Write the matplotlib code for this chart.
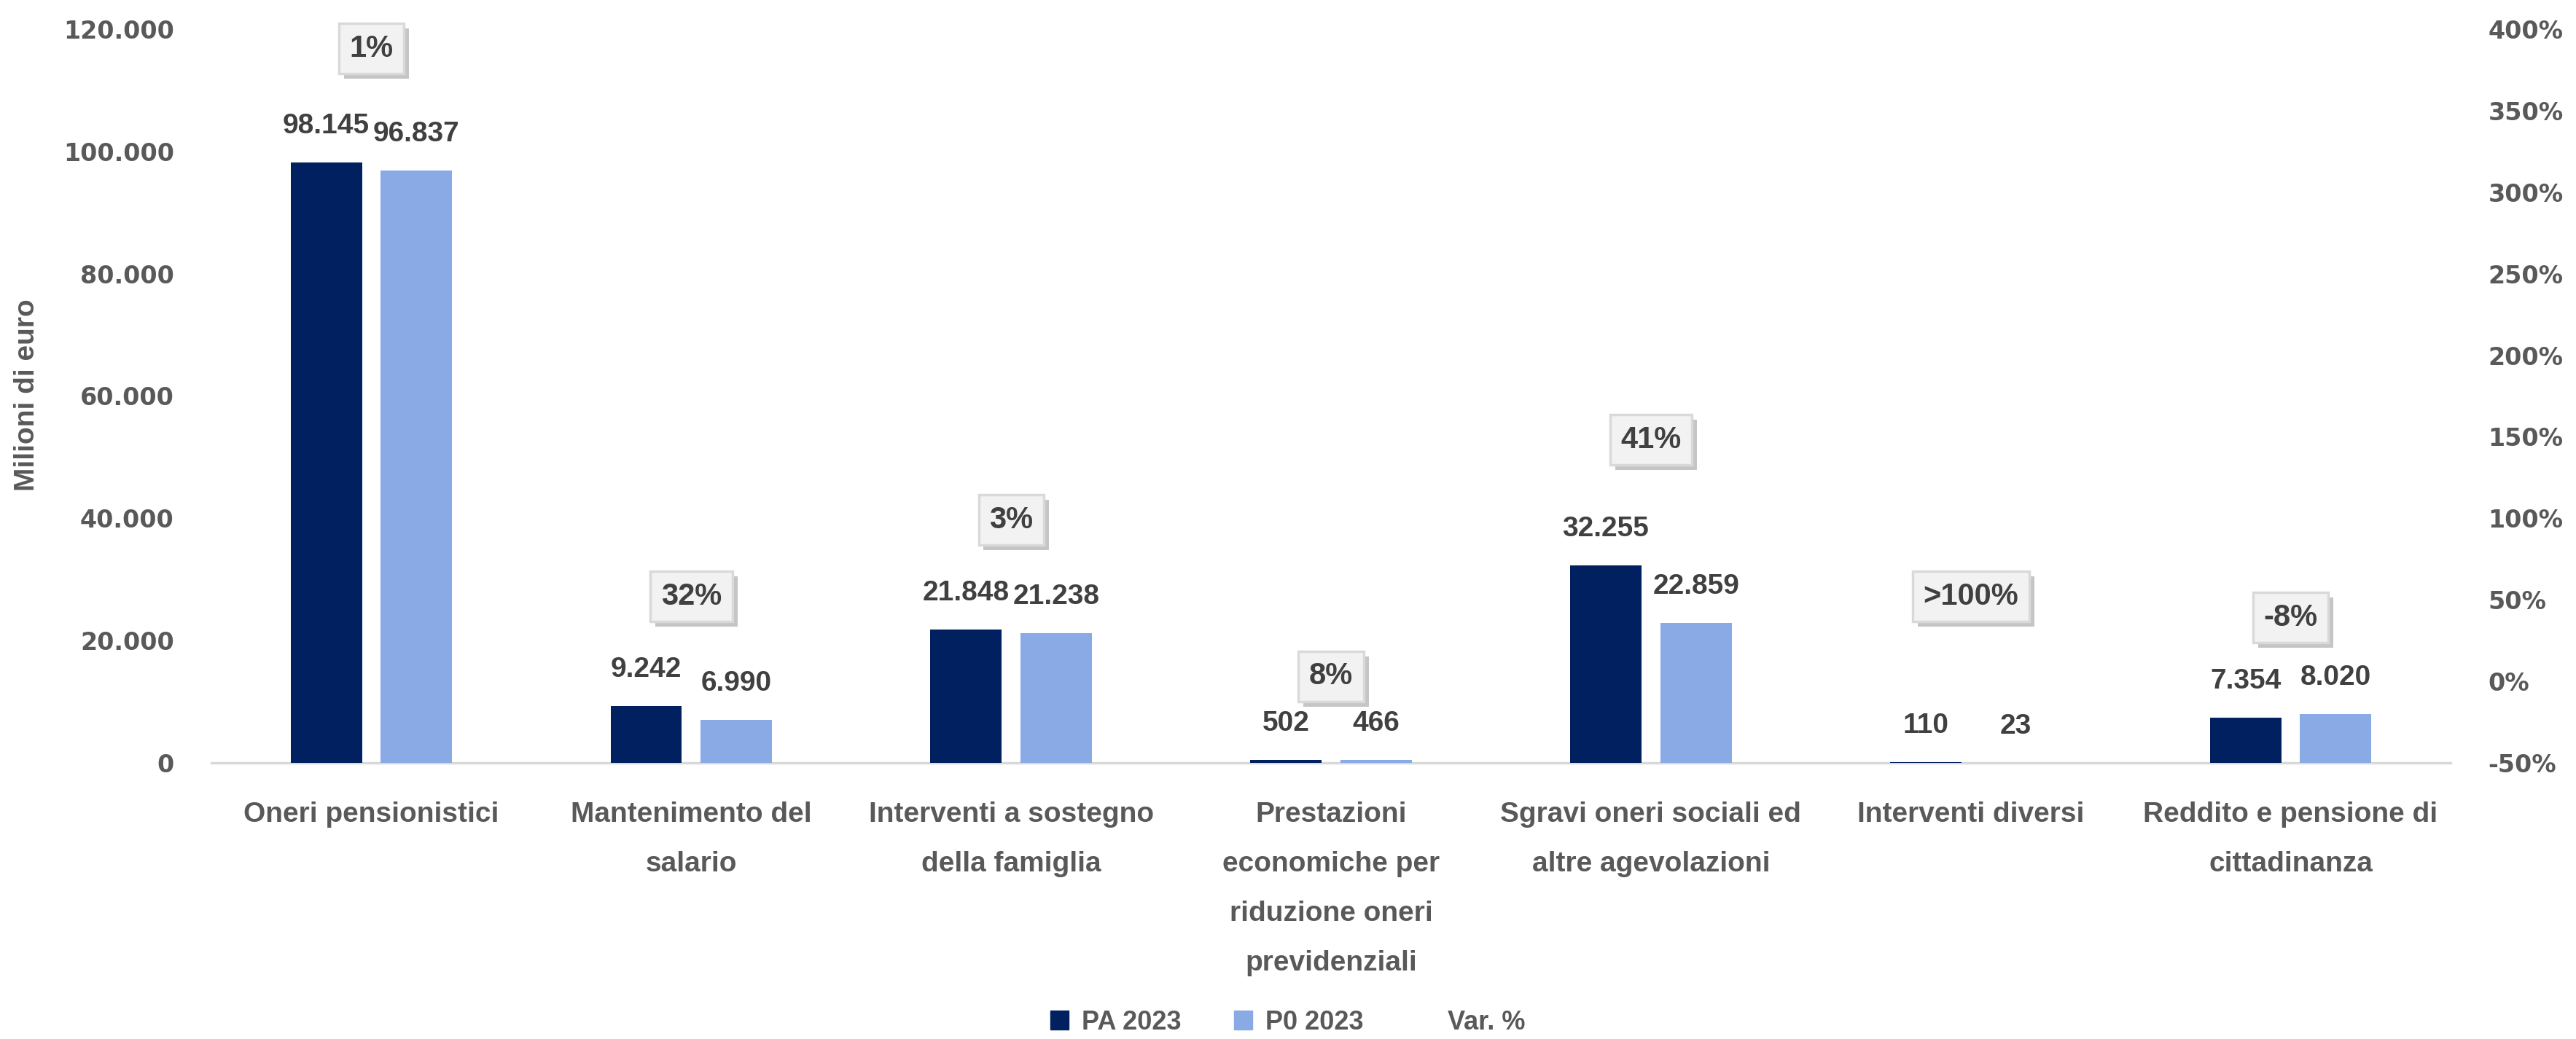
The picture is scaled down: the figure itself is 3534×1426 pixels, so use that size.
#!/usr/bin/env python3
import numpy as np
import matplotlib
matplotlib.use("Agg")
import matplotlib.pyplot as plt
from matplotlib.patches import Patch
from matplotlib.lines import Line2D
from matplotlib import patheffects as pe
from matplotlib.ticker import FuncFormatter, MultipleLocator

categories = [
    "Oneri pensionistici",
    "Mantenimento del\nsalario",
    "Interventi a sostegno\ndella famiglia",
    "Prestazioni\neconomiche per\nriduzione oneri\nprevidenziali",
    "Sgravi oneri sociali ed\naltre agevolazioni",
    "Interventi diversi",
    "Reddito e pensione di\ncittadinanza",
]
pa_2023 = [98145, 9242, 21848, 502, 32255, 110, 7354]
p0_2023 = [96837, 6990, 21238, 466, 22859, 23, 8020]
var_pct = ["1%", "32%", "3%", "8%", "41%", ">100%", "-8%"]
series_names = ["PA 2023", "P0 2023", "Var. %"]

# where the Var. % boxes sit, in units of the right axis (%)
var_label_pos = [388, 52, 99, 3, 148, 52, 39]

DARK = "#002060"
LIGHT = "#8AAAE5"
TICK_GREY = "#595959"
LABEL_GREY = "#404040"
NARROW = ["Liberation Sans Narrow", "Liberation Sans", "DejaVu Sans"]
ARIAL = ["Liberation Sans", "DejaVu Sans"]


def fmt_thousands(v):
    return f"{int(v):,}".replace(",", ".")


def main():
    fig = plt.figure(figsize=(35.34, 14.26), dpi=100)
    ax = fig.add_axes([0.0821, 0.2658, 0.9513 - 0.0821, 0.972 - 0.2658])
    ax2 = ax.twinx()

    x = np.arange(len(categories))
    w = 0.223
    off = 0.141
    ax.bar(x - off, pa_2023, w, color=DARK, zorder=3)
    ax.bar(x + off, p0_2023, w, color=LIGHT, zorder=3)

    # value labels above the bars
    for xs, vals in ((x - off, pa_2023), (x + off, p0_2023)):
        for xi, v in zip(xs, vals):
            ax.annotate(fmt_thousands(v), (xi, v), xytext=(0, 23),
                        textcoords="offset points", ha="center", va="bottom",
                        fontsize=28, fontweight="bold", color=LABEL_GREY,
                        family=ARIAL)

    ax.set_xlim(-0.5, len(categories) - 0.5)
    ax.set_ylim(0, 120000)
    ax.yaxis.set_major_locator(MultipleLocator(20000))
    ax.yaxis.set_major_formatter(FuncFormatter(lambda v, p: fmt_thousands(v)))
    ax2.set_ylim(-50, 400)
    ax2.yaxis.set_major_locator(MultipleLocator(50))
    ax2.yaxis.set_major_formatter(FuncFormatter(lambda v, p: f"{v:.0f}%"))

    for a in (ax, ax2):
        for s in a.spines.values():
            s.set_visible(False)
        a.tick_params(axis="y", length=0, labelsize=24, labelcolor=TICK_GREY, pad=37)
        for lab in a.get_yticklabels():
            lab.set_fontweight("bold")
            lab.set_family("DejaVu Sans")
    ax.spines["bottom"].set_visible(True)
    ax.spines["bottom"].set_color("#d9d9d9")
    ax.spines["bottom"].set_linewidth(2.5)

    ax.set_xticks(x)
    ax.set_xticklabels(categories, fontsize=28, fontweight="bold", color=TICK_GREY,
                       family=NARROW, linespacing=2.15)
    ax.tick_params(axis="x", length=0, pad=38)

    # Var. % boxes
    for xi, txt, yp in zip(x, var_pct, var_label_pos):
        t = ax2.text(xi, yp, txt, ha="center", va="center", fontsize=30,
                     fontweight="bold", color=LABEL_GREY, family=ARIAL, zorder=5,
                     bbox=dict(boxstyle="square,pad=0.35", fc="#f2f2f2",
                               ec="#d9d9d9", lw=2.5))
        t.get_bbox_patch().set_path_effects([
            pe.SimplePatchShadow(offset=(5, -5), shadow_rgbFace="#7f7f7f", alpha=0.45),
            pe.Normal()])

    fig.text(0.0105, 0.62, "Milioni di euro", rotation=90, ha="center", va="center",
             fontsize=28, fontweight="bold", color=TICK_GREY, family=NARROW)

    handles = [Patch(color=DARK), Patch(color=LIGHT),
               Line2D([], [], linestyle="none")]
    leg = fig.legend(handles, series_names, loc="center", bbox_to_anchor=(0.5, 0.016),
                     ncol=3, frameon=False, handlelength=0.7, handleheight=0.7,
                     handletextpad=0.5, columnspacing=2.0,
                     prop={"family": NARROW, "weight": "bold", "size": 26})
    for t in leg.get_texts():
        t.set_color(TICK_GREY)

    fig.savefig("out.png", dpi=100, facecolor="white")


if __name__ == "__main__":
    main()
